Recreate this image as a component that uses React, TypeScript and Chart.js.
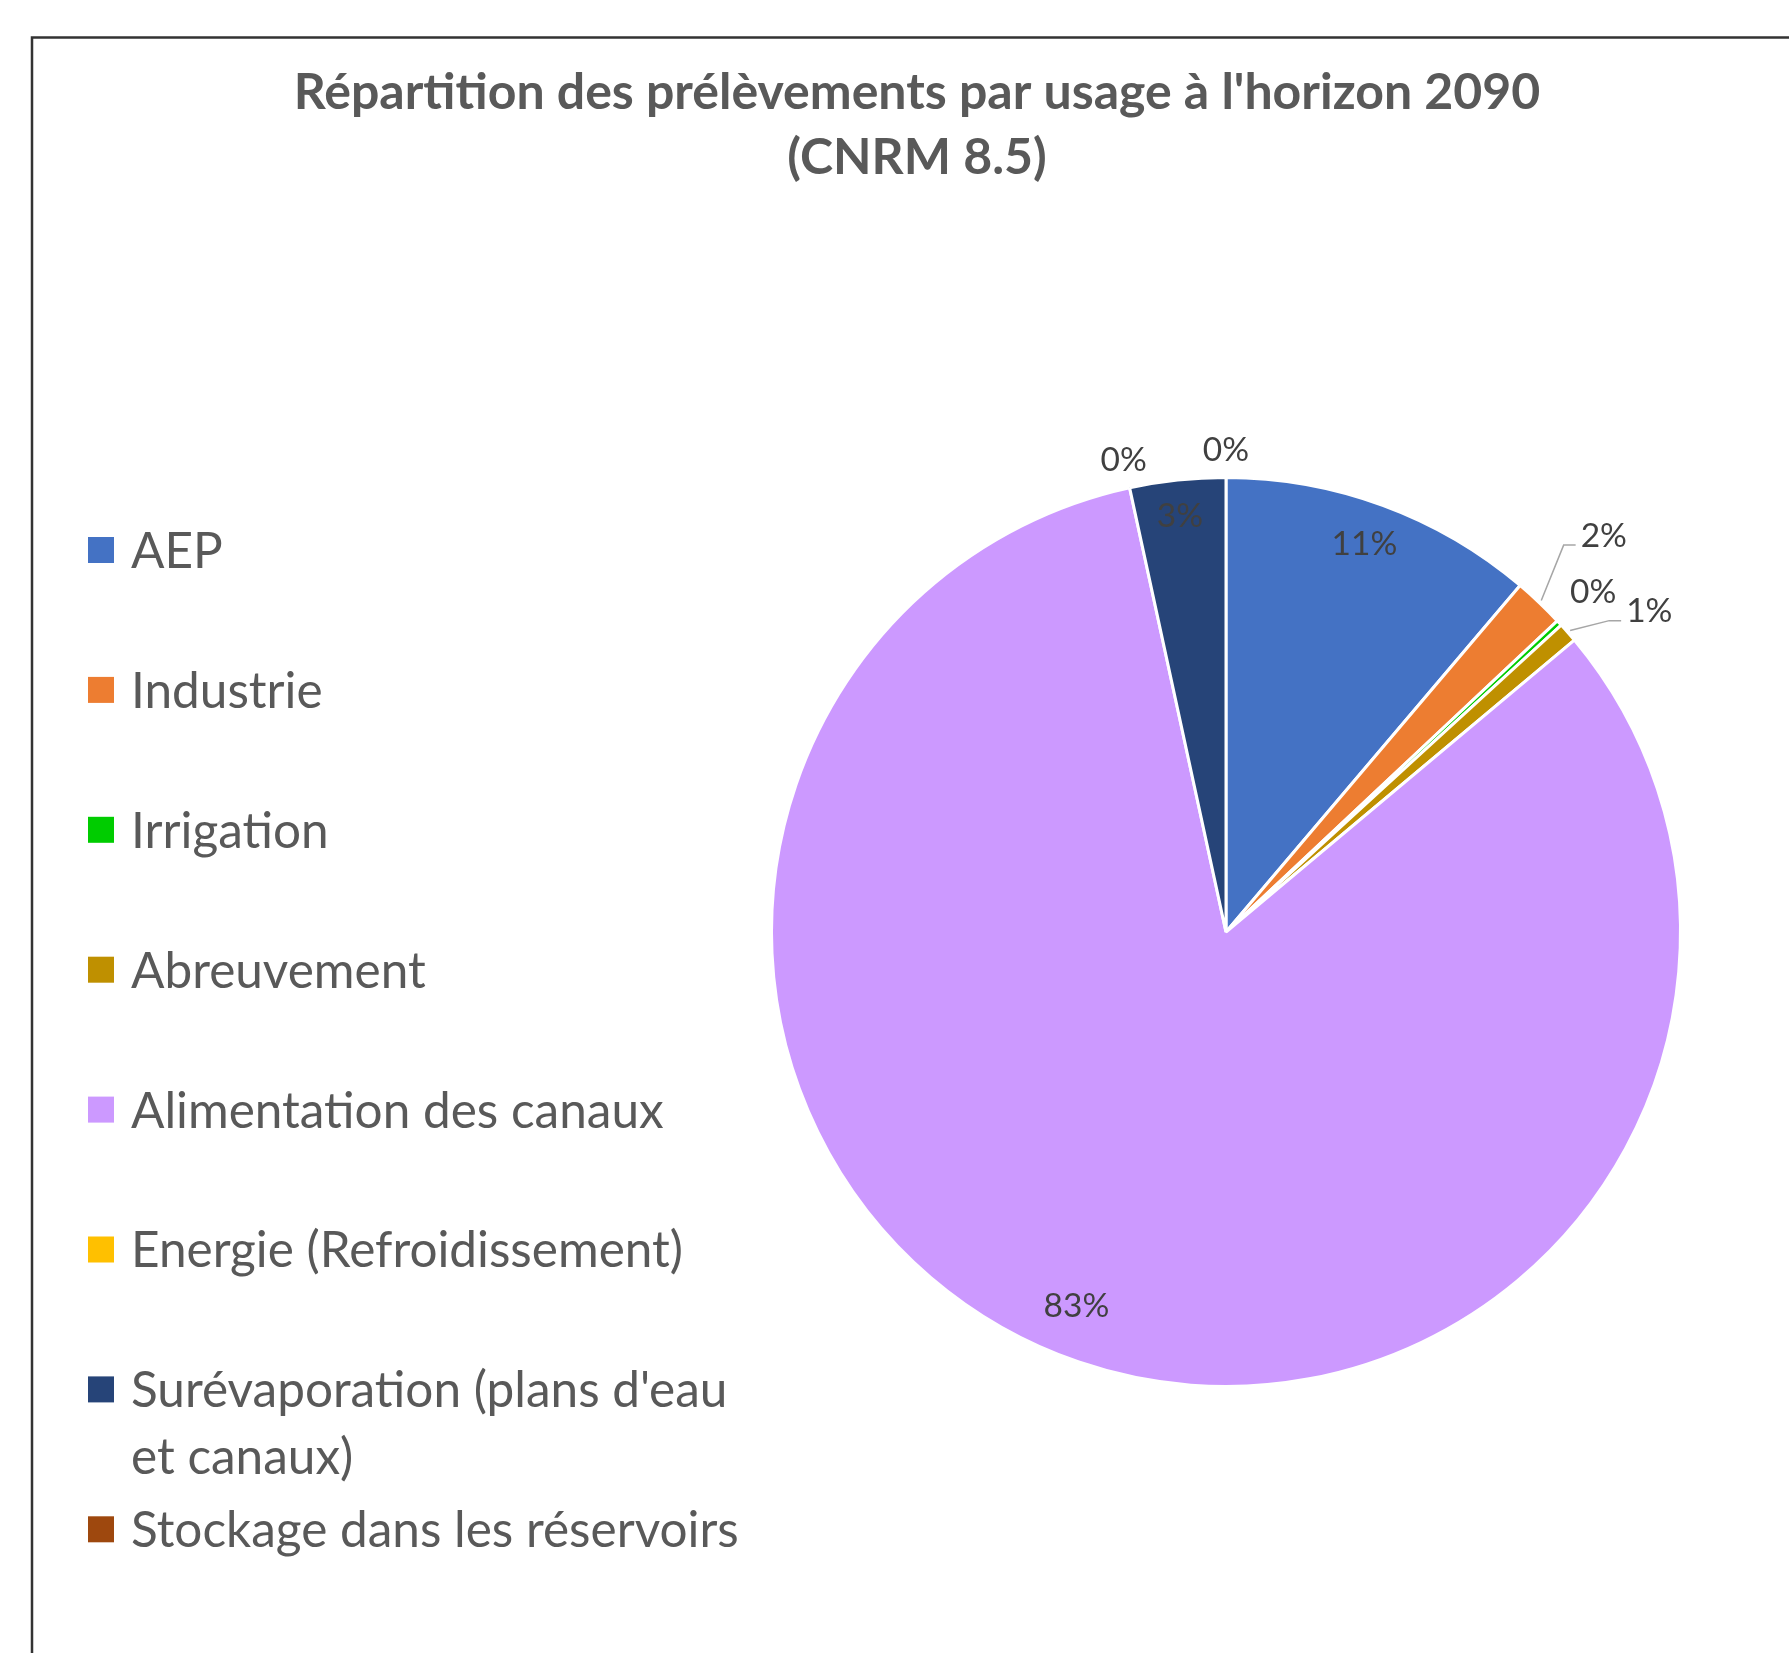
import React, { useEffect, useRef } from "react";
import { Chart, registerables } from "chart.js";

Chart.register(...registerables);

// ---------- data ----------
const titleLines = [
  "Répartition des prélèvements par usage à l'horizon 2090",
  "(CNRM 8.5)",
];

const categories = [
  "AEP",
  "Industrie",
  "Irrigation",
  "Abreuvement",
  "Alimentation des canaux",
  "Energie (Refroidissement)",
  "Surévaporation (plans d'eau et canaux)",
  "Stockage dans les réservoirs",
];

// legend text as wrapped in the reference
const legendLines = [
  ["AEP"],
  ["Industrie"],
  ["Irrigation"],
  ["Abreuvement"],
  ["Alimentation des canaux"],
  ["Energie (Refroidissement)"],
  ["Surévaporation (plans d'eau", "et canaux)"],
  ["Stockage dans les réservoirs"],
];

// share of withdrawals (%)
const shares = [11.2, 1.8, 0.2, 0.7, 82.7, 0.0, 3.4, 0.0];

const colors = [
  "#4472C4",
  "#ED7D31",
  "#00CC00",
  "#BF9000",
  "#CC99FF",
  "#FFC000",
  "#264478",
  "#9E480E",
];

// data label placement: radius factor (of outer radius), angle shift (deg), leader line
const labelPlacement = [
  { r: 0.905, da: -0.5, leader: false },
  { r: 1.204, da: 0.1, leader: true },
  { r: 1.1, da: 0.1, leader: false },
  { r: 1.168, da: 4.1, leader: true },
  { r: 0.886, da: 2.9, leader: false },
  { r: 1.062, da: 0, leader: false },
  { r: 0.92, da: -0.2, leader: false },
  { r: 1.06, da: 0, leader: false },
];

const FONT = "Lato, 'Open Sans', 'DejaVu Sans', sans-serif";

const decorPlugin = {
  id: "decor",
  beforeDraw(chart: any) {
    const ctx = chart.ctx;
    ctx.save();
    ctx.fillStyle = "#ffffff";
    ctx.fillRect(0, 0, chart.width, chart.height);
    // outer frame (right and bottom edges lie outside the picture)
    ctx.strokeStyle = "#333333";
    ctx.lineWidth = 2.5;
    ctx.beginPath();
    ctx.moveTo(32, chart.height + 5);
    ctx.lineTo(32, 37.5);
    ctx.lineTo(chart.width + 5, 37.5);
    ctx.stroke();
    ctx.restore();
  },
  afterDatasetsDraw(chart: any) {
    const ctx = chart.ctx;
    const meta = chart.getDatasetMeta(0);
    const values = chart.data.datasets[0].data as number[];
    const total = values.reduce((a, b) => a + b, 0);
    ctx.save();
    ctx.font = `33.5px ${FONT}`;
    ctx.fillStyle = "#404040";
    ctx.textAlign = "center";
    ctx.textBaseline = "middle";
    meta.data.forEach((arc: any, i: number) => {
      const p = arc.getProps(["x", "y", "startAngle", "endAngle", "outerRadius"], true);
      const place = labelPlacement[i];
      const mid = (p.startAngle + p.endAngle) / 2;
      const a = mid + (place.da * Math.PI) / 180;
      const lx = p.x + Math.cos(a) * p.outerRadius * place.r;
      const ly = p.y + Math.sin(a) * p.outerRadius * place.r;
      const text = Math.round((values[i] / total) * 100) + "%";
      if (place.leader) {
        const w = ctx.measureText(text).width;
        const sx = p.x + Math.cos(mid) * (p.outerRadius + 3);
        const sy = p.y + Math.sin(mid) * (p.outerRadius + 3);
        const ex = lx - w / 2 - 5;
        const ey = ly + 9;
        ctx.save();
        ctx.strokeStyle = "#A6A6A6";
        ctx.lineWidth = 1.5;
        ctx.beginPath();
        ctx.moveTo(sx, sy);
        ctx.lineTo(ex - 12, ey);
        ctx.lineTo(ex, ey);
        ctx.stroke();
        ctx.restore();
      }
      ctx.fillText(text, lx, ly);
    });
    ctx.restore();
  },
  afterDraw(chart: any) {
    const ctx = chart.ctx;
    ctx.save();
    // title
    ctx.fillStyle = "#595959";
    ctx.textAlign = "center";
    ctx.textBaseline = "middle";
    ctx.font = `bold 50px ${FONT}`;
    titleLines.forEach((line, k) => {
      ctx.fillText(line, 917, 93 + k * 65);
    });
    // legend
    ctx.textAlign = "left";
    ctx.font = `49.5px ${FONT}`;
    legendLines.forEach((lines, i) => {
      const y = 550 + i * 139.9;
      ctx.fillStyle = colors[i];
      ctx.fillRect(88, y - 13, 26, 26);
      ctx.fillStyle = "#595959";
      lines.forEach((t, k) => ctx.fillText(t, 131, y + 2 + k * 67));
    });
    ctx.restore();
  },
};

export default function App() {
  const ref = useRef<HTMLCanvasElement | null>(null);
  useEffect(() => {
    document.body.style.margin = "0";
    const canvas = ref.current!;
    const chart = new Chart(canvas, {
      type: "pie",
      data: {
        labels: categories,
        datasets: [
          {
            data: shares,
            backgroundColor: colors,
            borderColor: "#ffffff",
            borderWidth: 3,
          },
        ],
      },
      options: {
        responsive: false,
        animation: false,
        layout: { padding: { left: 770, right: 107, top: 476, bottom: 265 } },
        plugins: {
          legend: { display: false },
          title: { display: false },
          tooltip: { enabled: false },
        },
      },
      plugins: [decorPlugin],
    });
    return () => chart.destroy();
  }, []);
  return (
    <canvas
      ref={ref}
      width={1789}
      height={1653}
      style={{ display: "block", width: 1789, height: 1653 }}
    />
  );
}
